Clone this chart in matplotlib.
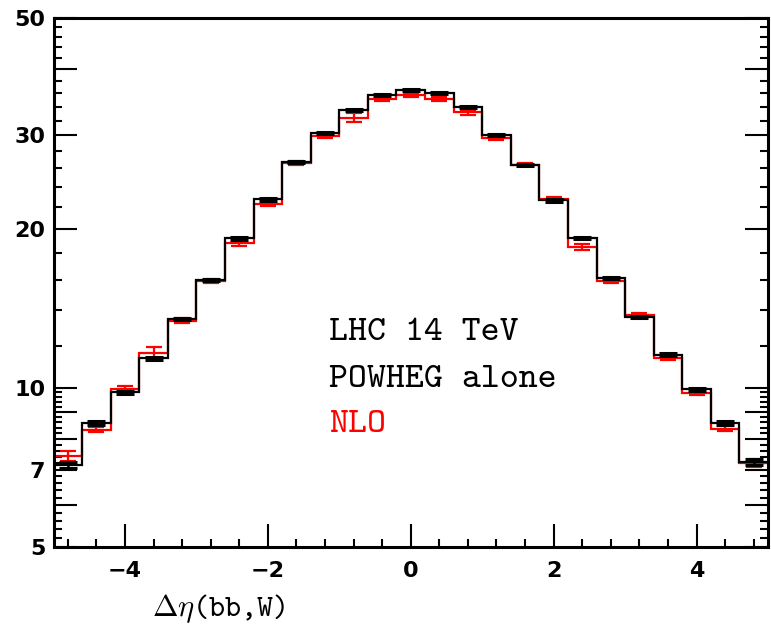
import numpy as np
import matplotlib
matplotlib.use('Agg')
import matplotlib.pyplot as plt
from matplotlib.ticker import NullFormatter

# bin centres of delta eta(bb, W), width 0.4
eta = [-4.8, -4.4, -4.0, -3.6, -3.2, -2.8, -2.4, -2.0, -1.6, -1.2, -0.8, -0.4, 0.0,
       0.4, 0.8, 1.2, 1.6, 2.0, 2.4, 2.8, 3.2, 3.6, 4.0, 4.4, 4.8]
bin_width = 0.4

powheg = [7.15, 8.58, 9.80, 11.37, 13.5, 16.0, 19.15, 22.7, 26.7, 30.3, 33.5, 35.8, 36.5,
          36.1, 34.0, 30.0, 26.4, 22.6, 19.2, 16.1, 13.6, 11.55, 9.93, 8.57, 7.23]
powheg_err = [0.09, 0.08, 0.07, 0.07, 0.07, 0.08, 0.1, 0.11, 0.13, 0.14, 0.15, 0.16, 0.16,
              0.16, 0.15, 0.14, 0.13, 0.11, 0.1, 0.08, 0.07, 0.07, 0.07, 0.08, 0.09]

nlo = [7.43, 8.33, 9.93, 11.62, 13.4, 15.9, 18.75, 22.3, 26.6, 29.9, 32.4, 35.1, 35.8,
       35.1, 33.2, 29.6, 26.4, 22.7, 18.45, 15.9, 13.7, 11.4, 9.78, 8.37, 7.2]
nlo_err = [0.15, 0.09, 0.15, 0.3, 0.12, 0.12, 0.2, 0.2, 0.2, 0.25, 0.6, 0.3, 0.3,
           0.3, 0.35, 0.25, 0.2, 0.2, 0.25, 0.15, 0.12, 0.12, 0.1, 0.08, 0.12]

yticks_major = [5, 6, 7, 8, 9, 10, 20, 30, 40, 50]
ytick_labels = ['5', '', '7', '', '', '10', '20', '30', '', '50']
xticks_major = [-4, -2, 0, 2, 4]
xtick_labels = ['\u22124', '\u22122', '0', '2', '4']

plt.rcParams['mathtext.fontset'] = 'cm'

fig = plt.figure(figsize=(7.71, 6.38), dpi=100)
ax = fig.add_axes([53.5/771, 91/638, 714.5/771, 529/638])

eta = np.array(eta)
edges = np.append(eta - bin_width/2, eta[-1] + bin_width/2)

ax.stairs(nlo, edges, color='#ff0000', lw=1.6, baseline=None, zorder=2)
ax.errorbar(eta, nlo, yerr=nlo_err, fmt='none', ecolor='#ff0000', elinewidth=1.6,
            capsize=5.5, capthick=1.6, zorder=3)
ax.stairs(powheg, edges, color='black', lw=1.6, baseline=None, zorder=4)
ax.errorbar(eta, powheg, yerr=powheg_err, fmt='none', ecolor='black', elinewidth=1.8,
            capsize=6.5, capthick=2.2, zorder=5)

ax.set_yscale('log')
ax.set_xlim(-5, 5)
ax.set_ylim(5, 50)

ax.set_yticks(yticks_major, labels=ytick_labels)
minor_y = [v for v in np.arange(5.2, 10.0, 0.2) if abs(v - round(v)) > 1e-6]
minor_y += [v for v in range(12, 50, 2) if v % 10 != 0]
ax.set_yticks(minor_y, minor=True)
ax.yaxis.set_minor_formatter(NullFormatter())

ax.set_xticks(xticks_major, labels=xtick_labels)
ax.set_xticks(np.arange(-4.8, 4.9, 0.4), minor=True)

ax.tick_params(which='both', direction='in', top=False, right=True, width=1.5)
ax.tick_params(which='major', length=16.5, pad=6)
ax.tick_params(which='minor', length=6)
for lab in ax.get_xticklabels() + ax.get_yticklabels():
    lab.set_fontfamily('DejaVu Sans')
    lab.set_fontweight('bold')
    lab.set_fontsize(16)
ax.tick_params(axis='x', pad=10)

for sp in ax.spines.values():
    sp.set_linewidth(2.2)

fig.text(329/771, 1 - 340/638, 'LHC 14 TeV', fontfamily='cmtt10', fontsize=26,
         va='baseline', ha='left')
fig.text(329/771, 1 - 387/638, 'POWHEG alone', fontfamily='cmtt10', fontsize=26,
         va='baseline', ha='left')
fig.text(329/771, 1 - 432/638, 'NLO', fontfamily='cmtt10', fontsize=26, color='#ff0000',
         va='baseline', ha='left')
fig.text(152/771, 1 - 616/638, r'$\Delta\eta$(bb,W)', fontfamily='cmtt10', fontsize=22,
         va='baseline', ha='left')

fig.savefig('out.png', dpi=100)
